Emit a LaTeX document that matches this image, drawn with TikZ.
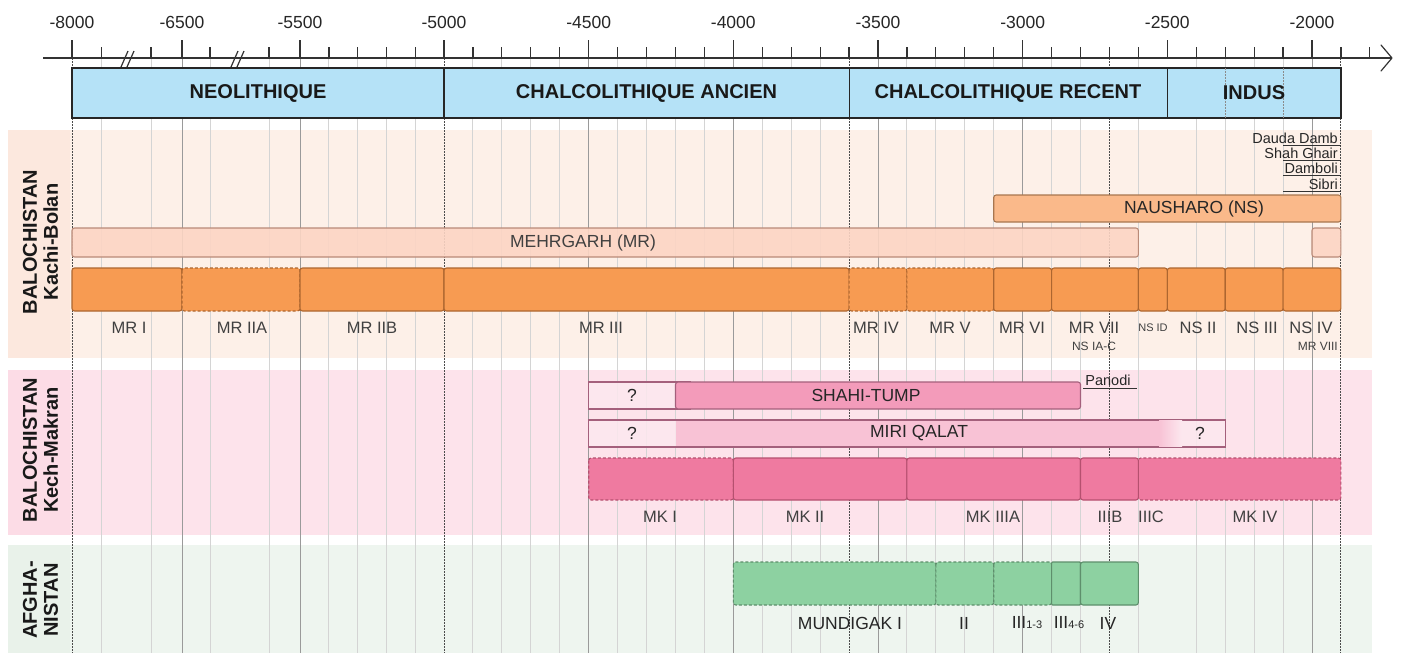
\documentclass[tikz,border=0pt]{standalone}
\usepackage{fontspec}
\setmainfont{Liberation Sans}
\definecolor{periodblue}{HTML}{B5E2F7}
\definecolor{peachbg}{HTML}{FDF0E8}
\definecolor{peachlab}{HTML}{FCE8DE}
\definecolor{pinkbg}{HTML}{FDE3EB}
\definecolor{pinklab}{HTML}{FCDCE6}
\definecolor{greenbg}{HTML}{EEF5EF}
\definecolor{greenlab}{HTML}{E9F2EA}
\definecolor{mehr}{HTML}{FCD5C4}
\definecolor{mehrline}{HTML}{B98A78}
\definecolor{naush}{HTML}{FAB98A}
\definecolor{naushline}{HTML}{A8764F}
\definecolor{orangeph}{HTML}{F79B52}
\definecolor{orangeline}{HTML}{AD6630}
\definecolor{shahi}{HTML}{F39BBA}
\definecolor{shahilight}{HTML}{FCE8EF}
\definecolor{miri}{HTML}{F8C2D5}
\definecolor{pinkline}{HTML}{A4607C}
\definecolor{mkph}{HTML}{EF7AA0}
\definecolor{mkline}{HTML}{B5506F}
\definecolor{greenph}{HTML}{8DD1A1}
\definecolor{greenline}{HTML}{5E8F6C}
\definecolor{gridlight}{HTML}{D4D4D4}
\definecolor{gridmid}{HTML}{9A9A9A}
\begin{document}
\begin{tikzpicture}[x=1pt,y=-1pt,
  gridminor/.style={draw=gridlight,line width=0.9},
  gridmajor/.style={draw=gridmid,line width=1},
  griddot/.style={draw=black!70,line width=1,dash pattern=on 1.5pt off 1.5pt},
  axisline/.style={draw=black!80,line width=1.2},
  yr/.style={font=\fontsize{17.5}{18}\selectfont,text=black!85,inner sep=0},
  period/.style={font=\fontsize{20}{22}\selectfont\bfseries,text=black!90,inner sep=0},
  region/.style={font=\fontsize{20}{21}\selectfont\bfseries,text=black!90,inner sep=0,rotate=90,align=center},
  bar/.style={rounded corners=2.5pt,line width=1.1},
  dashbar/.style={bar,dash pattern=on 3pt off 2pt},
  phase/.style={font=\fontsize{16.5}{18}\selectfont,text=black!75,inner sep=0},
  small/.style={font=\fontsize{12}{13}\selectfont,text=black!75,inner sep=0},
  site/.style={font=\fontsize{14.5}{15}\selectfont,text=black!85,inner sep=0},
  barlabel/.style={font=\fontsize{17.5}{18}\selectfont,text=black!85,inner sep=0}
]
\useasboundingbox (0,0) rectangle (1403,656);
\fill[white] (0,0) rectangle (1403,656);

% region backgrounds
\fill[peachbg] (8,130) rectangle (1372,358);
\fill[peachlab] (8,130) rectangle (70,358);
\fill[pinkbg] (8,370) rectangle (1372,535);
\fill[pinklab] (8,370) rectangle (70,535);
\fill[greenbg] (8,545) rectangle (1372,653);
\fill[greenlab] (8,545) rectangle (70,653);

% grid lines
\foreach \x in {101.5,151,210,269,328.9,357.8,386.7,415.6}
  \draw[gridminor] (\x,58) -- (\x,653);
\foreach \x in {182,300}
  \draw[gridmajor] (\x,58) -- (\x,653);
\foreach \i in {1,2,3,4,6,7,8,9,11,12,13,16,17,18,19,21,22,24,26,27,28,29}{
  \pgfmathsetmacro\gx{444+28.933*\i}
  \draw[gridminor] (\gx,58) -- (\gx,653);}
\foreach \i in {5,10,15,20,30}{
  \pgfmathsetmacro\gx{444+28.933*\i}
  \draw[gridmajor] (\gx,58) -- (\gx,653);}
\foreach \x in {72,444}
  \draw[griddot] (\x,58) -- (\x,653);
\foreach \i in {14,23,31}{
  \pgfmathsetmacro\gx{444+28.933*\i}
  \draw[griddot] (\gx,58) -- (\gx,653);}

% axis
\draw[axisline] (43,58) -- (1391,58);
\draw[axisline,line cap=round,line join=round] (1381,45) -- (1392,58) -- (1381,71);
\foreach \x in {72,182,300,444,588.7,733.3,878,1022.7,1167.3,1312}
  \draw[axisline] (\x,40) -- (\x,58);
\foreach \x in {101.5,151,210,269,328.9,357.8,386.7,415.6}
  \draw[axisline] (\x,47) -- (\x,58);
\foreach \i in {1,2,3,4,6,7,8,9,11,12,13,14,16,17,18,19,21,22,23,24,26,27,28,29,31,32}{
  \pgfmathsetmacro\gx{444+28.933*\i}
  \draw[axisline] (\gx,47) -- (\gx,58);}
% break marks
\draw[axisline] (121,67) -- (128,51);
\draw[axisline] (127,67) -- (134,51);
\draw[axisline] (231,67) -- (238,51);
\draw[axisline] (237,67) -- (244,51);

% axis labels
\node[yr] (y8000) at (72,22) {-8000};
\node[yr] (y6500) at (182,22) {-6500};
\node[yr] (y5500) at (300,22) {-5500};
\node[yr] (y5000) at (444,22) {-5000};
\node[yr] (y4500) at (588.7,22) {-4500};
\node[yr] (y4000) at (733.3,22) {-4000};
\node[yr] (y3500) at (878,22) {-3500};
\node[yr] (y3000) at (1022.7,22) {-3000};
\node[yr] (y2500) at (1167.3,22) {-2500};
\node[yr] (y2000) at (1312,22) {-2000};

% period band
\filldraw[fill=periodblue,draw=black!85,line width=1.2] (72,68) rectangle (1340.9,118);
\foreach \x in {444,849.1,1167.3}
  \draw[draw=black!85,line width=1.2] (\x,68) -- (\x,118);
\foreach \x in {1225.2,1283.1}
  \draw[griddot,draw=black!45] (\x,68) -- (\x,118);
\node[period] (neo) at (258,93) {NEOLITHIQUE};
\node[period] (chalA) at (646.5,93) {CHALCOLITHIQUE ANCIEN};
\node[period] (chalR) at (1008,93) {CHALCOLITHIQUE RECENT};
\node[period] (indus) at (1254,93) {INDUS};

% region labels
\node[region] (kachi) at (40.5,242) {BALOCHISTAN\\Kachi-Bolan};
\node[region] (kech) at (40.5,450) {BALOCHISTAN\\Kech-Makran};
\node[region] (afgh) at (40.5,600) {AFGHA-\\NISTAN};

% Kachi-Bolan: small sites
\node[site,anchor=east] (dauda) at (1338,138) {Dauda Damb};
\node[site,anchor=east] (shah) at (1338,153) {Shah Ghair};
\node[site,anchor=east] (damb) at (1338,168.5) {Damboli};
\node[site,anchor=east] (sibri) at (1338,184) {Sibri};
\foreach \yy in {145,160,175.5,191}
  \draw[black!80,line width=1] (1283.1,\yy) -- (1340.9,\yy);

% Nausharo
\filldraw[bar,fill=naush,draw=naushline] (993.7,195) rectangle (1340.9,222);
\node[barlabel] (naushtxt) at (1194,208.5) {NAUSHARO (NS)};

% Mehrgarh
\filldraw[bar,fill=mehr,fill opacity=0.9,draw=mehrline] (72,228) rectangle (1138.4,257);
\filldraw[bar,fill=mehr,fill opacity=0.9,draw=mehrline] (1312,228) rectangle (1340.9,257);
\node[barlabel,text=black!75] (mehrtxt) at (583,243) {MEHRGARH (MR)};

% Mehrgarh / Nausharo phases
\filldraw[bar,fill=orangeph,draw=orangeline] (72,268) rectangle (182,311);
\filldraw[dashbar,fill=orangeph,draw=orangeline] (182,268) rectangle (300,311);
\filldraw[bar,fill=orangeph,draw=orangeline] (300,268) rectangle (444,311);
\filldraw[bar,fill=orangeph,draw=orangeline] (444,268) rectangle (849.1,311);
\filldraw[dashbar,fill=orangeph,draw=orangeline] (849.1,268) rectangle (906.9,311);
\filldraw[dashbar,fill=orangeph,draw=orangeline] (906.9,268) rectangle (993.7,311);
\filldraw[bar,fill=orangeph,draw=orangeline] (993.7,268) rectangle (1051.6,311);
\filldraw[bar,fill=orangeph,draw=orangeline] (1051.6,268) rectangle (1138.4,311);
\filldraw[bar,fill=orangeph,draw=orangeline] (1138.4,268) rectangle (1167.3,311);
\filldraw[bar,fill=orangeph,draw=orangeline] (1167.3,268) rectangle (1225.2,311);
\filldraw[bar,fill=orangeph,draw=orangeline] (1225.2,268) rectangle (1283.1,311);
\filldraw[bar,fill=orangeph,draw=orangeline] (1283.1,268) rectangle (1340.9,311);

\node[phase] (mr1) at (129,328) {MR I};
\node[phase] (mr2a) at (242,328) {MR IIA};
\node[phase] (mr2b) at (372,328) {MR IIB};
\node[phase] (mr3) at (601,328) {MR III};
\node[phase] (mr4) at (876,328) {MR IV};
\node[phase] (mr5) at (950,328) {MR V};
\node[phase] (mr6) at (1022,328) {MR VI};
\node[phase] (mr7) at (1094,328) {MR VII};
\node[small] (ns1ac) at (1094,346) {NS IA-C};
\node[small,font=\fontsize{11}{12}\selectfont] (ns1d) at (1153,328) {NS ID};
\node[phase] (ns2) at (1198,328) {NS II};
\node[phase] (ns3) at (1257,328) {NS III};
\node[phase] (ns4) at (1311,328) {NS IV};
\node[small,anchor=east] (mr8) at (1338,346) {MR VIII};

% Kech-Makran: Shahi-Tump
\filldraw[bar,rounded corners=0pt,fill=shahilight,fill opacity=0.85,draw=pinkline] (588.7,382) rectangle (690,409);
\filldraw[bar,fill=shahi,draw=pinkline] (675.5,382) rectangle (1080.5,409);
\node[barlabel] (q1) at (632,395.5) {?};
\node[barlabel] (shahitxt) at (866,395.5) {SHAHI-TUMP};
\node[site] (panodi) at (1108,380) {Panodi};
\draw[black!80,line width=1] (1083,388.5) -- (1137,388.5);

% Miri Qalat
\filldraw[bar,rounded corners=0pt,fill=shahilight,fill opacity=0.85,draw=pinkline] (588.7,420) rectangle (1225.2,447);
\fill[miri] (675.5,420.6) rectangle (1160,446.4);
\shade[left color=miri,right color=shahilight] (1159,420.6) rectangle (1182,446.4);
\node[barlabel] (q2) at (632,433.5) {?};
\node[barlabel] (miritxt) at (919,433.5) {MIRI QALAT};
\node[barlabel] (q3) at (1200,433.5) {?};

% Miri Qalat phases
\filldraw[dashbar,fill=mkph,draw=mkline] (588.7,458) rectangle (733.3,500);
\filldraw[bar,fill=mkph,draw=mkline] (733.3,458) rectangle (906.9,500);
\filldraw[bar,fill=mkph,draw=mkline] (906.9,458) rectangle (1080.5,500);
\filldraw[dashbar,fill=mkph,draw=mkline] (1138.4,458) rectangle (1340.9,500);
\filldraw[bar,fill=mkph,draw=mkline] (1080.5,458) rectangle (1138.4,500);
\node[phase] (mk1) at (660,517) {MK I};
\node[phase] (mk2) at (805,517) {MK II};
\node[phase] (mk3a) at (993,517) {MK IIIA};
\node[phase] (mk3b) at (1110,517) {IIIB};
\node[phase] (mk3c) at (1151,517) {IIIC};
\node[phase] (mk4) at (1255,517) {MK IV};

% Mundigak
\filldraw[dashbar,fill=greenph,draw=greenline] (733.3,562) rectangle (935.9,605);
\filldraw[dashbar,fill=greenph,draw=greenline] (935.9,562) rectangle (993.7,605);
\filldraw[dashbar,fill=greenph,draw=greenline] (993.7,562) rectangle (1051.6,605);
\filldraw[bar,rounded corners=1pt,fill=greenph,draw=greenline] (1051.6,562) rectangle (1080.5,605);
\filldraw[bar,fill=greenph,draw=greenline] (1080.5,562) rectangle (1138.4,605);
\node[barlabel,text=black!85] (mg1) at (850,623) {MUNDIGAK I};
\node[barlabel,text=black!85] (mg2) at (964,623) {II};
\node[barlabel,text=black!85] (mg3a) at (1027,623) {III\fontsize{11}{12}\selectfont 1-3};
\node[barlabel,text=black!85] (mg3b) at (1069,623) {III\fontsize{11}{12}\selectfont 4-6};
\node[barlabel,text=black!85] (mg4) at (1108,623) {IV};
\end{tikzpicture}
\end{document}
